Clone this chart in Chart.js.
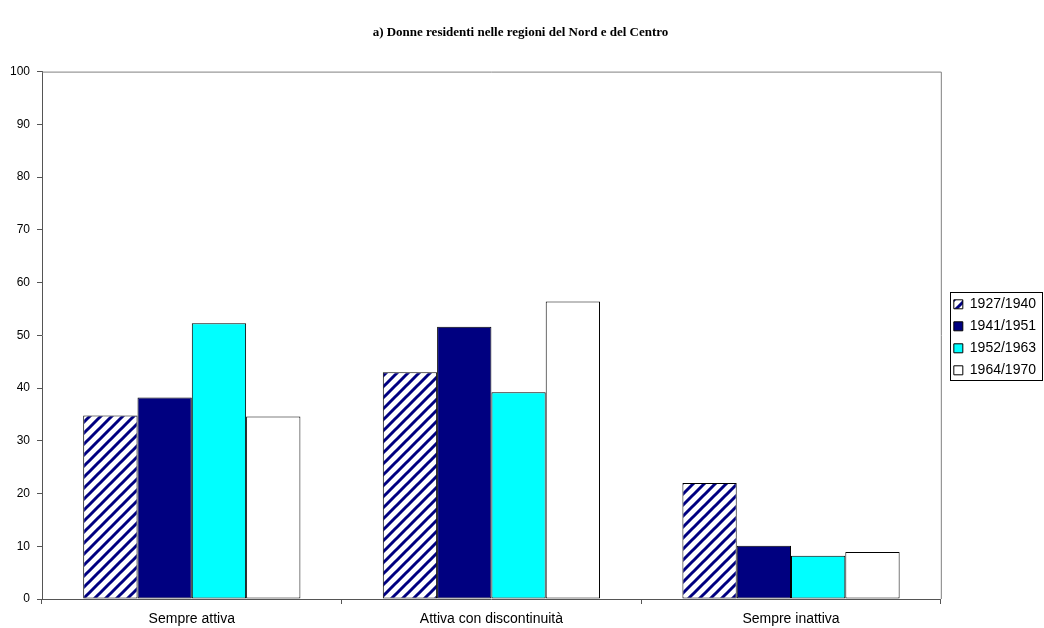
<!DOCTYPE html>
<html lang="it">
  <head>
    <meta charset="UTF-8" />
    <title>Donne residenti nelle regioni del Nord e del Centro</title>
    <script src="https://cdn.jsdelivr.net/npm/chart.js"></script>
    <style>
      html, body { margin: 0; padding: 0; background: #fff; }
      #wrap { width: 1044px; height: 628px; }
    </style>
  </head>
  <body>
    <div id="wrap"><canvas id="myChart" width="1044" height="628"></canvas></div>
    <script>
      const categories = ["Sempre attiva", "Attiva con discontinuità", "Sempre inattiva"];
      const seriesNames = ["1927/1940", "1941/1951", "1952/1963", "1964/1970"];
      const v1927 = [34.8, 43.0, 22.0];
      const v1941 = [38.2, 51.6, 10.1];
      const v1952 = [52.3, 39.2, 8.2];
      const v1964 = [34.6, 56.4, 8.9];
      const yTicks = [0, 10, 20, 30, 40, 50, 60, 70, 80, 90, 100];

      // diagonal navy hatch for the first series
      function makeHatch() {
        const s = 11;
        const c = document.createElement("canvas");
        c.width = s; c.height = s;
        const g = c.getContext("2d");
        g.fillStyle = "#fff";
        g.fillRect(0, 0, s, s);
        g.strokeStyle = "#000080";
        g.lineWidth = 3;
        g.beginPath();
        for (let k = -1; k <= 1; k++) {
          g.moveTo(k * s - 2, s + 2);
          g.lineTo(k * s + s + 2, -2);
        }
        g.stroke();
        return g.createPattern(c, "repeat");
      }
      const hatch = makeHatch();

      const frame = {
        id: "frame",
        afterLayout(chart) {
          // nudge legend a bit, like the original
          chart.legend.left += 5;
          chart.legend.right += 5;
          chart.legend.top += 2;
          chart.legend.bottom += 2;
        },
        afterDraw(chart) {
          const { ctx, chartArea: a } = chart;
          ctx.save();
          ctx.strokeStyle = "#808080";
          ctx.lineWidth = 1;
          ctx.beginPath();
          ctx.moveTo(a.left, a.top + 0.5);
          ctx.lineTo(a.right + 0.5, a.top + 0.5);
          ctx.lineTo(a.right + 0.5, a.bottom);
          ctx.stroke();
          // legend border
          const hb = chart.legend.legendHitBoxes;
          if (hb && hb.length) {
            let l = Infinity, t = Infinity, r = -Infinity, b = -Infinity;
            hb.forEach((h) => {
              l = Math.min(l, h.left); t = Math.min(t, h.top);
              r = Math.max(r, h.left + h.width); b = Math.max(b, h.top + h.height);
            });
            ctx.strokeStyle = "#000";
            ctx.strokeRect(Math.round(l - 4) + 0.5, Math.round(t - 5) + 0.5, Math.round(r - l + 10), Math.round(b - t + 8));
          }
          ctx.restore();
        },
      };

      const ctx = document.getElementById("myChart").getContext("2d");
      const myChart = new Chart(ctx, {
        type: "bar",
        data: {
          labels: categories,
          datasets: [
            { label: seriesNames[0], data: v1927, backgroundColor: hatch },
            { label: seriesNames[1], data: v1941, backgroundColor: "#000080" },
            { label: seriesNames[2], data: v1952, backgroundColor: "#00ffff" },
            { label: seriesNames[3], data: v1964, backgroundColor: "#ffffff" },
          ].map((d) => Object.assign(d, {
            borderColor: "#000",
            borderWidth: 1,
            borderSkipped: false,
            barPercentage: 1,
            categoryPercentage: 0.725,
          })),
        },
        plugins: [frame],
        options: {
          responsive: false,
          animation: false,
          layout: { padding: { left: 0, right: 3, top: 0, bottom: 0 } },
          plugins: {
            title: {
              display: true,
              text: "a) Donne residenti nelle regioni del Nord e del Centro",
              color: "#000",
              font: { family: "Liberation Serif", size: 13, weight: "bold" },
              padding: { top: 25, bottom: 31 },
            },
            legend: {
              position: "right",
              fullSize: false,
              labels: {
                color: "#000",
                font: { family: "Liberation Sans", size: 14 },
                boxWidth: 9,
                boxHeight: 9,
                padding: 8,
              },
            },
            tooltip: { enabled: false },
          },
          scales: {
            x: {
              grid: { drawOnChartArea: false, color: "#555", tickLength: 5, offset: true },
              border: { color: "#555" },
              ticks: { color: "#000", font: { family: "Liberation Sans", size: 14 }, padding: 7 },
              afterFit(s) { s.height = 29; },
            },
            y: {
              min: 0,
              max: 100,
              afterBuildTicks(s) { s.ticks = yTicks.map((v) => ({ value: v })); },
              grid: { drawOnChartArea: false, color: "#555", tickLength: 5 },
              border: { color: "#555" },
              ticks: { color: "#000", font: { family: "Liberation Sans", size: 12 }, padding: 7 },
              afterFit(s) { s.width = 42; },
            },
          },
        },
      });
    </script>
  </body>
</html>
